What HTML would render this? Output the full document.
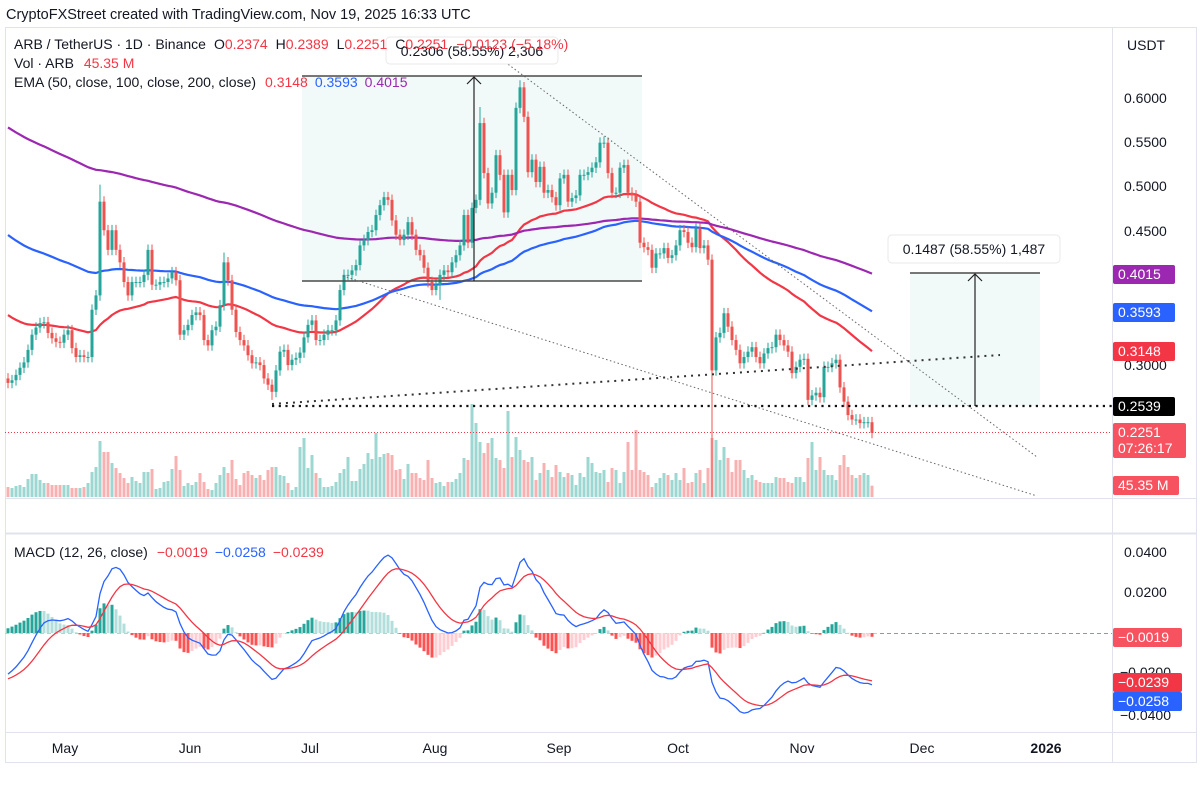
<!DOCTYPE html>
<html><head><meta charset="utf-8"><style>
html,body{margin:0;padding:0;background:#fff;}
body{width:1201px;height:786px;overflow:hidden;font-family:"Liberation Sans",sans-serif;}
svg text{font-family:"Liberation Sans",sans-serif;}
</style></head><body>
<svg id="svg" width="1201" height="786" xmlns="http://www.w3.org/2000/svg">
<rect x="0" y="0" width="1201" height="786" fill="#fff"/>
<text x="6" y="19" font-size="14.5" fill="#131722">CryptoFXStreet created with TradingView.com, Nov 19, 2025 16:33 UTC</text>
<rect x="5.5" y="27.5" width="1191" height="735" fill="none" stroke="#e0e3eb"/>
<line x1="1112.5" y1="28" x2="1112.5" y2="762" stroke="#e0e3eb"/>
<line x1="5" y1="498.5" x2="1196" y2="498.5" stroke="#e0e3eb"/>
<line x1="5" y1="533.5" x2="1196" y2="533.5" stroke="#e0e3eb" stroke-width="2"/>
<line x1="5" y1="732.5" x2="1196" y2="732.5" stroke="#e0e3eb"/>
<rect x="302" y="76" width="340" height="205" fill="#f2f9f9"/>
<rect x="910" y="273" width="130" height="133" fill="#f2f9f9"/>
<g id="marks"></g>
<g>
<line x1="302" y1="76" x2="642" y2="76" stroke="#4a4a4a" stroke-width="1.5"/>
<line x1="302" y1="281" x2="642" y2="281" stroke="#4a4a4a" stroke-width="1.5"/>
<line x1="474" y1="281" x2="474" y2="77" stroke="#222" stroke-width="1.2"/>
<polyline points="467,84 474,77 481,84" fill="none" stroke="#222" stroke-width="1.2"/>
<line x1="910" y1="273" x2="1040" y2="273" stroke="#4a4a4a" stroke-width="1.5"/>
<line x1="975" y1="406" x2="975" y2="274" stroke="#222" stroke-width="1.2"/>
<polyline points="968,281 975,274 982,281" fill="none" stroke="#222" stroke-width="1.2"/>
<line x1="505" y1="62" x2="1037" y2="457" stroke="#666" stroke-width="1" stroke-dasharray="1.5,2.5"/>
<line x1="343" y1="276" x2="1037" y2="496" stroke="#666" stroke-width="1" stroke-dasharray="1.5,2.5"/>
<line x1="272" y1="406" x2="1112" y2="406" stroke="#111" stroke-width="2.2" stroke-dasharray="2.2,4.5"/>
<line x1="272" y1="404" x2="1000" y2="355" stroke="#333" stroke-width="2" stroke-dasharray="2,5"/>
<line x1="5" y1="432.5" x2="1112" y2="432.5" stroke="#f23645" stroke-width="1" stroke-dasharray="1,2"/>
<line x1="880" y1="633.5" x2="1112" y2="633.5" stroke="#9598a1" stroke-width="1" stroke-dasharray="4,3"/>
<rect x="386" y="37" width="172" height="27" rx="4" fill="#fff" stroke="#e8e8e8"/>
<text x="472" y="56" font-size="14" fill="#131722" text-anchor="middle">0.2306 (58.55%) 2,306</text>
<rect x="888" y="235" width="172" height="28" rx="4" fill="#fff" stroke="#e8e8e8"/>
<text x="974" y="254" font-size="14" fill="#131722" text-anchor="middle">0.1487 (58.55%) 1,487</text>
</g>
<g font-size="14">
<text x="14" y="49" fill="#131722">ARB / TetherUS · 1D · Binance<tspan dx="8">O</tspan><tspan fill="#f23645">0.2374</tspan><tspan dx="8">H</tspan><tspan fill="#f23645">0.2389</tspan><tspan dx="8">L</tspan><tspan fill="#f23645">0.2251</tspan><tspan dx="8">C</tspan><tspan fill="#f23645">0.2251</tspan><tspan dx="8" fill="#f23645">−0.0123 (−5.18%)</tspan></text>
<text x="14" y="68" fill="#131722">Vol · ARB <tspan fill="#f23645" dx="6">45.35 M</tspan></text>
<text x="14" y="87" fill="#131722">EMA (50, close, 100, close, 200, close)<tspan fill="#f23645" dx="9">0.3148</tspan><tspan fill="#2962ff" dx="7">0.3593</tspan><tspan fill="#9c27b0" dx="7">0.4015</tspan></text>
<text x="14" y="557" fill="#131722">MACD (12, 26, close)<tspan fill="#f23645" dx="9">−0.0019</tspan><tspan fill="#2962ff" dx="7">−0.0258</tspan><tspan fill="#f23645" dx="7">−0.0239</tspan></text>
</g>
<g font-size="14" fill="#131722">
<text x="1127" y="50">USDT</text>
<text x="1124" y="103">0.6000</text>
<text x="1124" y="147">0.5500</text>
<text x="1124" y="191">0.5000</text>
<text x="1124" y="236">0.4500</text>
<text x="1124" y="370">0.3000</text>
<text x="1124" y="557">0.0400</text>
<text x="1124" y="597">0.0200</text>
<text x="1120" y="677">−0.0200</text>
<text x="1120" y="720">−0.0400</text>
</g>
<g font-size="14" fill="#fff">
<rect x="1113" y="265" width="62" height="19" rx="2" fill="#9c27b0"/><text x="1118" y="279">0.4015</text>
<rect x="1113" y="303" width="62" height="19" rx="2" fill="#2962ff"/><text x="1118" y="317">0.3593</text>
<rect x="1113" y="342" width="62" height="19" rx="2" fill="#f23645"/><text x="1118" y="356">0.3148</text>
<rect x="1113" y="397" width="62" height="19" rx="2" fill="#000"/><text x="1118" y="411">0.2539</text>
<rect x="1113" y="423" width="73" height="35" rx="2" fill="#f7525f"/><text x="1118" y="437">0.2251</text><text x="1118" y="453">07:26:17</text>
<rect x="1113" y="476" width="66" height="19" rx="2" fill="#f7525f"/><text x="1118" y="490">45.35 M</text>
<rect x="1113" y="628" width="69" height="19" rx="2" fill="#f7525f"/><text x="1118" y="642">−0.0019</text>
<rect x="1113" y="673" width="69" height="19" rx="2" fill="#f23645"/><text x="1118" y="687">−0.0239</text>
<rect x="1113" y="692" width="69" height="19" rx="2" fill="#2962ff"/><text x="1118" y="706">−0.0258</text>
</g>
<g font-size="14" fill="#131722" text-anchor="middle">
<text x="65" y="753">May</text>
<text x="190" y="753">Jun</text>
<text x="310" y="753">Jul</text>
<text x="435" y="753">Aug</text>
<text x="559" y="753">Sep</text>
<text x="678" y="753">Oct</text>
<text x="802" y="753">Nov</text>
<text x="922" y="753">Dec</text>
<text x="1046" y="753" font-weight="bold">2026</text>
</g>
</svg>
<script>
const closes=[0.281,0.284,0.290,0.298,0.304,0.318,0.335,0.343,0.348,0.349,
0.337,0.331,0.327,0.326,0.335,0.340,0.320,0.310,0.312,0.310,
0.310,0.363,0.379,0.484,0.452,0.430,0.452,0.430,0.416,0.394,
0.379,0.394,0.394,0.394,0.402,0.430,0.391,0.391,0.394,0.394,
0.398,0.405,0.396,0.335,0.340,0.346,0.357,0.360,0.357,0.329,
0.323,0.340,0.344,0.368,0.416,0.396,0.363,0.338,0.329,0.323,
0.312,0.303,0.304,0.301,0.286,0.279,0.271,0.295,0.316,0.318,
0.301,0.307,0.309,0.315,0.332,0.346,0.351,0.329,0.329,0.335,
0.340,0.340,0.351,0.385,0.402,0.402,0.407,0.413,0.435,0.441,
0.450,0.452,0.469,0.480,0.489,0.486,0.463,0.447,0.441,0.447,
0.461,0.447,0.430,0.424,0.410,0.394,0.385,0.391,0.402,0.407,
0.405,0.416,0.424,0.435,0.469,0.438,0.477,0.486,0.572,0.516,
0.482,0.494,0.536,0.514,0.472,0.514,0.497,0.589,0.612,0.579,
0.517,0.531,0.506,0.523,0.494,0.497,0.489,0.480,0.510,0.514,
0.484,0.488,0.491,0.514,0.514,0.517,0.522,0.528,0.550,0.550,
0.516,0.494,0.494,0.522,0.525,0.494,0.491,0.484,0.438,0.433,
0.430,0.410,0.426,0.426,0.432,0.421,0.424,0.435,0.452,0.450,
0.438,0.433,0.454,0.432,0.435,0.419,0.295,0.332,0.337,0.359,
0.344,0.329,0.318,0.303,0.310,0.316,0.321,0.310,0.303,0.314,
0.320,0.321,0.335,0.329,0.323,0.316,0.292,0.299,0.307,0.308,
0.262,0.267,0.270,0.265,0.299,0.299,0.303,0.307,0.276,0.260,
0.245,0.240,0.240,0.236,0.237,0.237,0.2251];
const volumes=[40,36,44,48,40,72,92,92,68,56,
56,48,48,48,48,48,36,36,36,40,
56,100,120,224,180,180,136,116,96,76,
56,80,64,56,100,100,112,32,36,60,
64,112,164,108,44,56,48,60,96,60,
32,28,56,88,120,96,148,72,48,96,
104,88,76,88,68,108,120,120,88,84,
56,28,40,200,236,116,168,96,76,40,
40,44,60,96,112,160,64,64,112,132,
176,152,256,160,172,176,168,108,112,72,
132,96,96,76,68,148,76,56,60,44,60,
60,72,96,156,148,372,296,220,176,216,
236,156,148,116,344,160,240,188,148,140,
160,68,96,136,108,80,128,100,80,96,
88,48,96,80,160,136,100,96,108,60,
116,108,56,100,220,108,268,108,100,88,
40,56,76,96,88,68,96,68,116,56,
60,96,108,56,116,236,228,148,200,156,
100,148,148,108,76,88,68,60,56,56,
56,80,76,76,60,56,80,80,60,156,
220,108,160,108,88,88,68,128,168,120,
88,76,88,96,88,45.35];
const firstOpen=0.286;
const highSpikes=[[23,0.503],[54,0.427],[118,0.590],[128,0.620],[149,0.557]];
const lowSpikes=[[66,0.262],[108,0.374],[176,0.153]];
const emaPeriods=[50,100,200];
const emaSeeds=[0.360,0.450,0.570];
const emaColors=['#f23645','#2962ff','#9c27b0'];
const macdSeeds=[0.283,0.305,-0.0235];

const NS='http://www.w3.org/2000/svg';
const layer=document.getElementById('marks');
function xAt(i){return 8+i*4;}
function yPrice(p){return 232-(p-0.45)*893;}
function yVol(v){return 497-v/4;}
function yMacd(v){return 633-v*2000;}
function mk(tag,attrs){const e=document.createElementNS(NS,tag);for(const k in attrs)e.setAttribute(k,attrs[k]);layer.appendChild(e);return e;}

const n=closes.length;
const opens=closes.map((c,i)=>i===0?firstOpen:closes[i-1]);
const highs=closes.map((c,i)=>Math.max(c,opens[i])+0.006);
const lows=closes.map((c,i)=>Math.min(c,opens[i])-0.006);
highSpikes.forEach(([i,v])=>{highs[i]=v;});
lowSpikes.forEach(([i,v])=>{lows[i]=v;});

for(let i=0;i<n;i++){
  const up=closes[i]>=opens[i];
  const r=mk('rect',{x:xAt(i)-1.5,y:yVol(volumes[i]),width:3,height:497-yVol(volumes[i]),fill:up?'rgba(38,166,154,0.45)':'rgba(239,83,80,0.45)'});
  
  
}
emaPeriods.forEach((p,k)=>{
  const a=2/(p+1);let e=emaSeeds[k];const pts=[];
  for(let i=0;i<n;i++){e=e+a*(closes[i]-e);pts.push(xAt(i)+','+yPrice(e).toFixed(1));}
  const l=mk('polyline',{points:pts.join(' '),fill:'none',stroke:emaColors[k],'stroke-width':2.2,'stroke-linejoin':'round'});
  
  
});
for(let i=0;i<n;i++){
  const up=closes[i]>=opens[i];const col=up?'#26a69a':'#ef5350';
  const w=mk('line',{x1:xAt(i),x2:xAt(i),y1:yPrice(highs[i]),y2:yPrice(lows[i]),stroke:col,'stroke-width':1});
  
  
  const t=yPrice(Math.max(opens[i],closes[i])),b=yPrice(Math.min(opens[i],closes[i]));
  const c=mk('rect',{x:xAt(i)-1.5,y:t,width:3,height:Math.max(1,b-t),fill:col});
  
  
}
let e12=macdSeeds[0],e26=macdSeeds[1],sig=macdSeeds[2];
const macd=[],signal=[],hist=[];
for(let i=0;i<n;i++){
  e12+=2/13*(closes[i]-e12);e26+=2/27*(closes[i]-e26);
  const m=e12-e26;sig+=2/10*(m-sig);
  macd.push(m);signal.push(sig);hist.push(m-sig);
}
const z=mk('line',{x1:5,x2:880,y1:633.5,y2:633.5,stroke:'#c8cad0','stroke-width':1,'stroke-dasharray':'4,3'});


for(let i=0;i<n;i++){
  const h=hist[i],prev=i>0?hist[i-1]:h;
  let col;
  if(h>=0)col=h>=prev?'#26a69a':'#b2dfdb';else col=h<prev?'#ff5252':'#ffcdd2';
  const y0=yMacd(0),y1=yMacd(h);
  const r=mk('rect',{x:xAt(i)-1.5,y:Math.min(y0,y1),width:3,height:Math.max(0.5,Math.abs(y1-y0)),fill:col});
  
  
}
const ml=mk('polyline',{points:macd.map((v,i)=>xAt(i)+','+yMacd(v).toFixed(1)).join(' '),fill:'none',stroke:'#2962ff','stroke-width':1.3});


const sl=mk('polyline',{points:signal.map((v,i)=>xAt(i)+','+yMacd(v).toFixed(1)).join(' '),fill:'none',stroke:'#f23645','stroke-width':1.3});


</script>
</body></html>
